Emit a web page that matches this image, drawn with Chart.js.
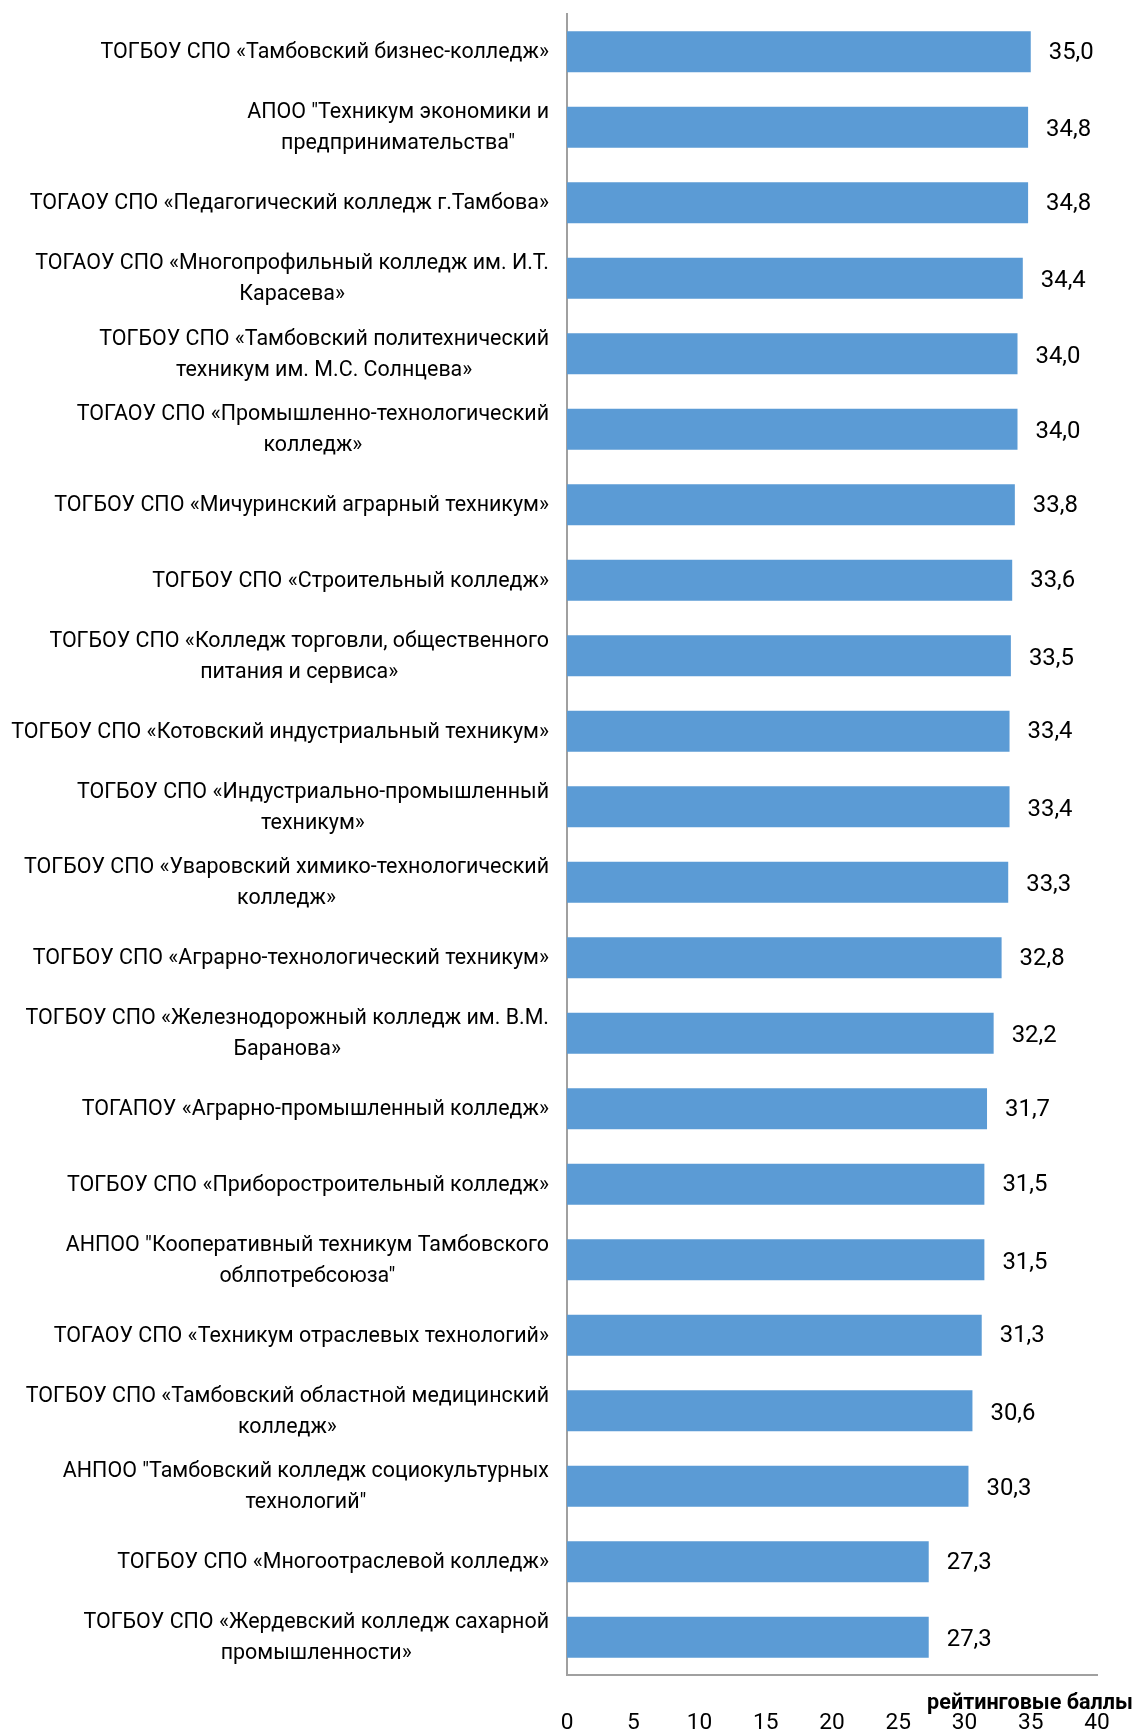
<!DOCTYPE html>
<html>
<head>
<meta charset="utf-8">
<script src="https://cdn.jsdelivr.net/npm/chart.js@4.4.1/dist/chart.umd.min.js"></script>
<style>
  html, body { margin: 0; padding: 0; background: #ffffff; }
  #wrap { position: relative; width: 1140px; height: 1733px; }
</style>
</head>
<body>
<div id="wrap"><canvas id="c" width="1140" height="1733"></canvas></div>
<script>
const categories = [
  "ТОГБОУ СПО «Тамбовский бизнес-колледж»",
  ["АПОО \"Техникум экономики и", "предпринимательства\""],
  "ТОГАОУ СПО «Педагогический колледж г.Тамбова»",
  ["ТОГАОУ СПО «Многопрофильный колледж им. И.Т.", "Карасева»"],
  ["ТОГБОУ СПО «Тамбовский политехнический", "техникум им. М.С. Солнцева»"],
  ["ТОГАОУ СПО «Промышленно-технологический", "колледж»"],
  "ТОГБОУ СПО «Мичуринский аграрный техникум»",
  "ТОГБОУ СПО «Строительный колледж»",
  ["ТОГБОУ СПО «Колледж торговли, общественного", "питания и сервиса»"],
  "ТОГБОУ СПО «Котовский индустриальный техникум»",
  ["ТОГБОУ СПО «Индустриально-промышленный", "техникум»"],
  ["ТОГБОУ СПО «Уваровский химико-технологический", "колледж»"],
  "ТОГБОУ СПО «Аграрно-технологический техникум»",
  ["ТОГБОУ СПО «Железнодорожный колледж им. В.М.", "Баранова»"],
  "ТОГАПОУ «Аграрно-промышленный колледж»",
  "ТОГБОУ СПО «Приборостроительный колледж»",
  ["АНПОО \"Кооперативный техникум Тамбовского", "облпотребсоюза\""],
  "ТОГАОУ СПО «Техникум отраслевых технологий»",
  ["ТОГБОУ СПО «Тамбовский областной медицинский", "колледж»"],
  ["АНПОО \"Тамбовский колледж социокультурных", "технологий\""],
  "ТОГБОУ СПО «Многоотраслевой колледж»",
  ["ТОГБОУ СПО «Жердевский колледж сахарной", "промышленности»"]
];
const values = [35.0, 34.8, 34.8, 34.4, 34.0, 34.0, 33.8, 33.6, 33.5, 33.4, 33.4, 33.3, 32.8, 32.2, 31.7, 31.5, 31.5, 31.3, 30.6, 30.3, 27.3, 27.3];
const xTickValues = [0, 5, 10, 15, 20, 25, 30, 35, 40];
const axisTitle = "рейтинговые баллы";

const FAMILY = "'Liberation Sans Narrow', 'Roboto', 'Liberation Sans', sans-serif";
const mc = document.createElement('canvas').getContext('2d');
function fitSize(text, target, weight) {
  mc.font = (weight || '') + ' 20px ' + FAMILY;
  const w = mc.measureText(text).width;
  return 20 * target / w;
}
const catSize = fitSize("ТОГБОУ СПО «Котовский индустриальный техникум»", 538);
const valSize = fitSize("35,0", 45);
const tickSize = fitSize("40", 25.5);
const titleSize = fitSize(axisTitle, 206, 'bold');
const LABEL_RIGHT = 549;
const LINE_H = 31;

const labelsPlugin = {
  id: 'labelsPlugin',
  afterDraw(chart) {
    const ctx = chart.ctx;
    const ys = chart.scales.y;
    ctx.save();
    ctx.fillStyle = '#000000';
    ctx.textBaseline = 'middle';
    ctx.font = catSize.toFixed(2) + 'px ' + FAMILY;
    categories.forEach((lab, i) => {
      const cy = ys.getPixelForValue(i);
      const lines = Array.isArray(lab) ? lab : [lab];
      const maxW = Math.max(...lines.map(l => ctx.measureText(l).width));
      ctx.textAlign = 'center';
      const cx = LABEL_RIGHT - maxW / 2;
      lines.forEach((l, k) => {
        ctx.fillText(l, cx, cy + (k - (lines.length - 1) / 2) * LINE_H + 1);
      });
    });
    ctx.font = valSize.toFixed(2) + 'px ' + FAMILY;
    ctx.textAlign = 'left';
    const meta = chart.getDatasetMeta(0);
    meta.data.forEach((bar, i) => {
      const lines = Array.isArray(categories[i]) ? 2 : 1;
      ctx.fillText(values[i].toFixed(1).replace('.', ','), bar.x + 18, bar.y + (lines === 2 ? 3 : 1));
    });
    ctx.font = 'bold ' + titleSize.toFixed(2) + 'px ' + FAMILY;
    ctx.textAlign = 'right';
    ctx.fillText(axisTitle, 1133, 1704);
    ctx.restore();
  }
};

new Chart(document.getElementById('c'), {
  type: 'bar',
  data: {
    labels: categories,
    datasets: [{
      data: values,
      backgroundColor: '#5b9bd5',
      borderWidth: 0,
      barPercentage: 0.543,
      categoryPercentage: 1.0
    }]
  },
  options: {
    indexAxis: 'y',
    responsive: false,
    animation: false,
    layout: { padding: { left: 567, right: 43, top: 14, bottom: 0 } },
    plugins: { legend: { display: false }, tooltip: { enabled: false } },
    scales: {
      y: {
        type: 'category',
        offset: true,
        afterFit(scale) { scale.width = 0; scale.paddingTop = 0; scale.paddingBottom = 0; },
        grid: { display: false, drawTicks: false },
        border: { display: true, color: '#a0a0a0', width: 2 },
        ticks: { display: false }
      },
      x: {
        min: 0,
        max: 40,
        afterBuildTicks(scale) { scale.ticks = xTickValues.map(v => ({ value: v })); },
        afterFit(scale) { scale.height = 58; scale.paddingLeft = 0; scale.paddingRight = 0; },
        grid: { display: false, drawTicks: false },
        border: { display: true, color: '#a0a0a0', width: 2 },
        ticks: {
          padding: 35,
          color: '#000000',
          maxRotation: 0,
          autoSkip: false,
          font: { family: FAMILY, size: tickSize },
          callback: (v) => String(v)
        }
      }
    }
  },
  plugins: [labelsPlugin]
});
</script>
</body>
</html>
